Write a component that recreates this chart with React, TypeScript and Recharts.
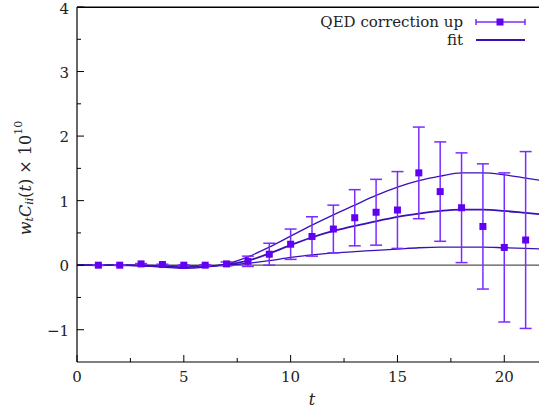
import React from "react";
import {
  ComposedChart,
  Line,
  Scatter,
  ErrorBar,
  XAxis,
  YAxis,
  ReferenceLine,
  Label,
} from "recharts";

const pointT = [1, 2, 3, 4, 5, 6, 7, 8, 9, 10, 11, 12, 13, 14, 15, 16, 17, 18, 19, 20, 21];
const pointY = [0.0, 0.0, 0.02, 0.01, 0.0, 0.0, 0.02, 0.06, 0.17, 0.325, 0.445, 0.56, 0.735, 0.82, 0.855, 1.43, 1.14, 0.89, 0.6, 0.275, 0.39];
const pointErr = [0.005, 0.005, 0.005, 0.005, 0.005, 0.008, 0.03, 0.08, 0.17, 0.235, 0.305, 0.37, 0.435, 0.51, 0.595, 0.71, 0.77, 0.85, 0.97, 1.155, 1.37];

const fitT = [0, 1, 2, 3, 4, 5, 6, 7, 8, 9, 10, 11, 12, 13, 14, 15, 16, 17, 18, 19, 20, 21, 22];
const fitCentral = [0, 0, 0, -0.005, -0.02, -0.03, -0.02, 0.01, 0.07, 0.18, 0.31, 0.43, 0.53, 0.61, 0.68, 0.75, 0.8, 0.84, 0.86, 0.86, 0.84, 0.81, 0.78];
const fitUpper = [0, 0, 0, -0.01, -0.03, -0.05, -0.03, 0.02, 0.13, 0.28, 0.45, 0.62, 0.78, 0.93, 1.08, 1.21, 1.31, 1.38, 1.43, 1.43, 1.4, 1.35, 1.3];
const fitLower = [0, 0, 0, 0, -0.01, -0.01, -0.01, 0.0, 0.03, 0.07, 0.12, 0.16, 0.19, 0.21, 0.23, 0.25, 0.27, 0.28, 0.28, 0.28, 0.27, 0.26, 0.25];

const xTicks = [0, 2.5, 5, 7.5, 10, 12.5, 15, 17.5, 20];
const yTicks = [-1, -0.5, 0, 0.5, 1, 1.5, 2, 2.5, 3, 3.5, 4];

const pointData = pointT.map((t, i) => ({ t, y: pointY[i], err: pointErr[i] }));
const fitData = fitT.map((t, i) => ({ t, c: fitCentral[i], u: fitUpper[i], l: fitLower[i] }));

const FONT = "DejaVu Serif";
const POINT = "#6200f0";
const BAR = "#7a2cff";
const FIT = "#3a10b8";

const fmt = (v: number) => (v < 0 ? "\u2212" + Math.abs(v) : String(v));

const txt = (size: number, italic = false): React.CSSProperties => ({
  fontFamily: FONT,
  fontSize: size,
  fontStyle: italic ? "italic" : "normal",
});

const YTick = (props: any) => {
  const { x, y, payload } = props;
  const v = payload.value as number;
  const major = Number.isInteger(v);
  const ax = x + 8;
  return (
    <g>
      <line x1={ax} x2={ax + (major ? 7 : 4)} y1={y} y2={y} stroke="#000" strokeWidth={1} />
      {major && (
        <text x={x} y={v === 4 ? y + 2 : y + 1} textAnchor="end" dominantBaseline="central" style={txt(15)} fill="#222">
          {fmt(v)}
        </text>
      )}
    </g>
  );
};

const XTick = (props: any) => {
  const { x, y, payload } = props;
  const v = payload.value as number;
  const major = Number.isInteger(v);
  const ay = y - 6;
  return (
    <g>
      <line x1={x} x2={x} y1={ay} y2={ay - (major ? 7 : 4)} stroke="#000" strokeWidth={1} />
      {major && (
        <text x={x} y={y + 9} textAnchor="middle" dominantBaseline="central" style={txt(15)} fill="#222">
          {fmt(v)}
        </text>
      )}
    </g>
  );
};

const square = (props: any) => {
  const { cx, cy } = props;
  return <rect x={cx - 3.5} y={cy - 3.5} width={7} height={7} fill={POINT} />;
};

const YLabel = () => {
  const cx = 25;
  const cy = 178;
  return (
    <text
      transform={`translate(${cx},${cy}) rotate(-90)`}
      textAnchor="middle"
      dominantBaseline="central"
      style={txt(16)}
      fill="#222"
    >
      <tspan style={txt(16, true)}>w</tspan>
      <tspan style={txt(11, true)} dy={4}>t</tspan>
      <tspan style={txt(16, true)} dy={-4}>C</tspan>
      <tspan style={txt(11, true)} dy={4}>ii</tspan>
      <tspan dy={-4}>(</tspan>
      <tspan style={txt(16, true)}>t</tspan>
      <tspan>) × 10</tspan>
      <tspan style={txt(11)} dy={-7}>10</tspan>
    </text>
  );
};

export default function App() {
  return (
    <div style={{ position: "absolute", top: 0, left: 0, width: 539, height: 412, overflow: "hidden", background: "#fff" }}>
      <ComposedChart width={560} height={412} margin={{ top: 7, right: 13, bottom: 0, left: 0 }}>
        <XAxis
          type="number"
          dataKey="t"
          domain={[0, 22]}
          ticks={xTicks}
          interval={0}
          allowDataOverflow
          height={50}
          tickLine={false}
          tickSize={0}
          tickMargin={6}
          tick={<XTick />}
          axisLine={{ stroke: "#000", strokeWidth: 1.2 }}
        >
          <Label
            content={() => (
              <text x={312} y={399} textAnchor="middle" dominantBaseline="central" style={txt(16, true)} fill="#222">
                t
              </text>
            )}
          />
        </XAxis>
        <XAxis
          xAxisId="top"
          orientation="top"
          type="number"
          dataKey="t"
          domain={[0, 22]}
          allowDataOverflow
          height={0}
          tick={false}
          tickLine={false}
          axisLine={{ stroke: "#000", strokeWidth: 1.2 }}
        />
        <YAxis
          type="number"
          domain={[-1.5, 4]}
          ticks={yTicks}
          interval={0}
          allowDataOverflow
          width={77}
          tickLine={false}
          tickSize={0}
          tickMargin={8}
          tick={<YTick />}
          axisLine={{ stroke: "#000", strokeWidth: 1.2 }}
        >
          <Label content={<YLabel />} />
        </YAxis>
        <ReferenceLine y={0} stroke="#555" strokeWidth={1.3} />
        <ReferenceLine y={3.995} stroke="#000" strokeWidth={1.4} ifOverflow="visible" />
        <Line data={fitData} dataKey="u" type="monotone" stroke={FIT} strokeWidth={1.3} dot={false} isAnimationActive={false} />
        <Line data={fitData} dataKey="l" type="monotone" stroke={FIT} strokeWidth={1.3} dot={false} isAnimationActive={false} />
        <Line data={fitData} dataKey="c" type="monotone" stroke={FIT} strokeWidth={1.8} dot={false} isAnimationActive={false} />
        <Scatter data={pointData} dataKey="y" shape={square} isAnimationActive={false}>
          <ErrorBar dataKey="err" direction="y" width={6} stroke={BAR} strokeWidth={1.5} isAnimationActive={false} />
        </Scatter>
      </ComposedChart>
      <div style={{ position: "absolute", top: 10, left: 300, width: 239, height: 45, pointerEvents: "none" }}>
        <svg width={239} height={45}>
          <text x={163} y={12} textAnchor="end" dominantBaseline="central" style={txt(15)} fill="#222">
            QED correction up
          </text>
          <line x1={176} x2={225} y1={12} y2={12} stroke={BAR} strokeWidth={1.5} />
          <line x1={176} x2={176} y1={9} y2={15} stroke={BAR} strokeWidth={1.5} />
          <line x1={225} x2={225} y1={9} y2={15} stroke={BAR} strokeWidth={1.5} />
          <rect x={196.5} y={8.5} width={7} height={7} fill={POINT} />
          <text x={163} y={30} textAnchor="end" dominantBaseline="central" style={txt(15)} fill="#222">
            fit
          </text>
          <line x1={176} x2={225} y1={30} y2={30} stroke={FIT} strokeWidth={1.8} />
        </svg>
      </div>
    </div>
  );
}
